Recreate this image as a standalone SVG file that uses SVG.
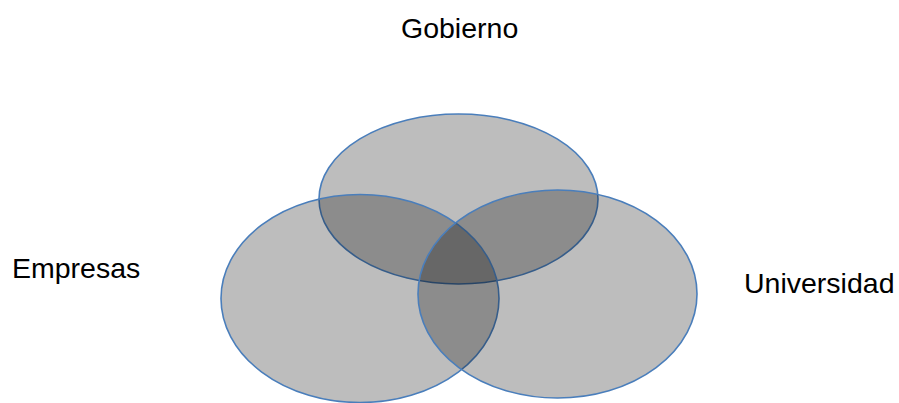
<svg xmlns="http://www.w3.org/2000/svg" width="899" height="403" viewBox="0 0 899 403">
<defs>
<style>
.c{fill:#000;fill-opacity:0.26;stroke:#4a7ebb;stroke-width:1.6}
.t{font-family:"Liberation Sans",Arial,sans-serif;font-size:28.5px;fill:#000}
</style>
<filter id="sh" x="-10%" y="-10%" width="120%" height="120%">
<feDropShadow dx="0" dy="1" stdDeviation="1.5" flood-color="#000" flood-opacity="0.25"/>
</filter>
</defs>
<rect width="899" height="403" fill="#fff"/>
<g id="gobierno">
<ellipse class="c" cx="458.5" cy="199" rx="139.5" ry="85"/>
<text class="t" x="401" y="37.5">Gobierno</text>
</g>
<g id="empresas">
<ellipse class="c" cx="360" cy="298.5" rx="139" ry="104"/>
<text class="t" x="12" y="277.5">Empresas</text>
</g>
<g id="universidad">
<ellipse class="c" cx="557.5" cy="294" rx="139.5" ry="104"/>
<text class="t" x="744" y="293">Universidad</text>
</g>
<g id="connectors"/>
</svg>
